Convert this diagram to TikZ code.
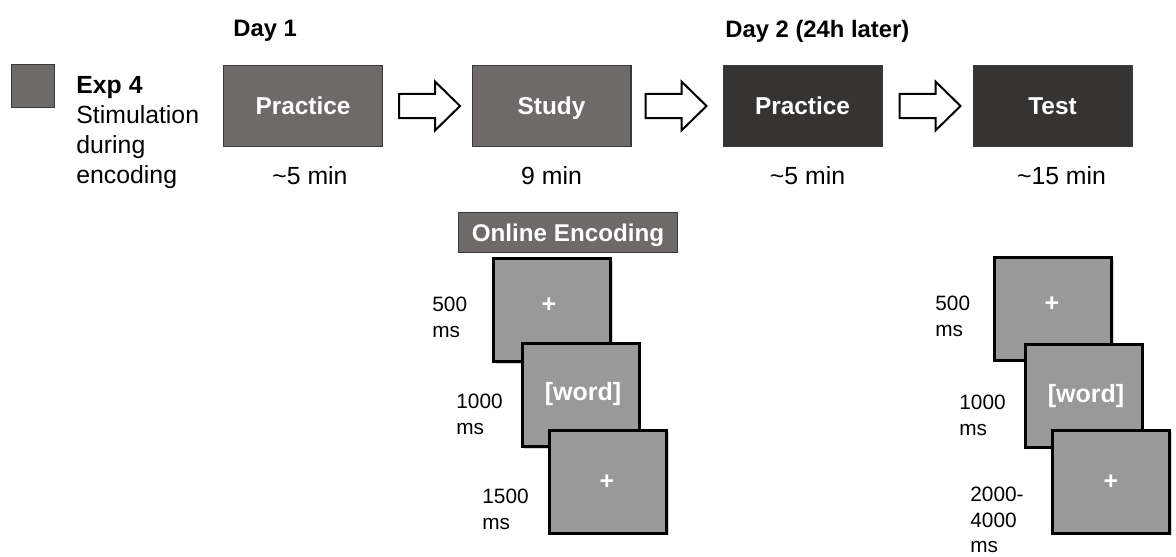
\documentclass[tikz,border=0pt]{standalone}
\usepackage{fontspec}
\setmainfont{Liberation Sans}
\usetikzlibrary{calc,shadows}
\definecolor{lightbox}{HTML}{6E6A69}
\definecolor{darkbox}{HTML}{363433}
\definecolor{boxedge}{HTML}{3A3A3A}
\definecolor{screenfill}{HTML}{999999}
\begin{document}
\begin{tikzpicture}[x=0.5pt,y=-0.5pt,
  phase/.style={draw=boxedge, line width=0.6pt, minimum width=79.4pt, minimum height=40.4pt,
    inner sep=0pt, text=white, font=\bfseries\fontsize{12.2}{14}\selectfont, text depth=0pt},
  tag/.style={draw=boxedge, line width=0.6pt, fill=lightbox, minimum width=109.4pt, minimum height=19.9pt,
    inner sep=0pt, text=white, font=\bfseries\fontsize{12.1}{14}\selectfont, text depth=0pt},
  screen/.style={draw=black, line width=1.5pt, fill=screenfill, minimum width=58.5pt, minimum height=51.5pt,
    inner sep=0pt, drop shadow={shadow xshift=1.2pt, shadow yshift=-1.2pt, opacity=0.35}},
  scrtext/.style={text=white, font=\bfseries\fontsize{12.5}{14}\selectfont, inner sep=0pt},
  lbl/.style={font=\fontsize{10.4}{12.6}\selectfont, align=left, inner sep=0pt, anchor=north west},
  daylbl/.style={font=\bfseries\fontsize{11.9}{14}\selectfont, inner sep=0pt, anchor=north west},
  dur/.style={font=\fontsize{12.4}{14}\selectfont, inner sep=0pt, anchor=base},
  arrowline/.style={draw=black, line width=1pt, fill=white, line join=miter},
  blockarrow/.pic={\path[arrowline] (0,-12) -- (36,-12) -- (36,-24.5) -- (61,0) -- (36,24.5) -- (36,12) -- (0,12) -- cycle;}
]
\useasboundingbox (0,0) rectangle (1176,556);

% legend
\node[draw=boxedge, line width=0.6pt, fill=lightbox, minimum size=21.4pt, inner sep=0pt] (leg) at (33,86) {};
\node[font=\fontsize{12.4}{15}\selectfont, align=left, inner sep=0pt, anchor=north west] (exp) at (76,76)
  {\textbf{Exp 4}\\Stimulation\\during\\encoding};

% day labels
\node[daylbl] (day1) at (233,20) {Day 1};
\node[daylbl] (day2) at (725,20) {Day 2 (24h later)};

% phases
\node[phase, fill=lightbox] (p1) at (303,106) {Practice};
\node[phase, fill=lightbox] (st) at (551.5,106) {Study};
\node[phase, fill=darkbox] (p2) at (802.5,106) {Practice};
\node[phase, fill=darkbox] (te) at (1052.5,106) {Test};

% block arrows
\pic at ($(p1.east)+(16,0)$) {blockarrow};
\pic at ($(st.east)+(14,0)$) {blockarrow};
\pic at ($(p2.east)+(17,0)$) {blockarrow};

% durations
\node[dur] (d1) at ($(p1.south)+(7,37)$) {\textasciitilde 5 min};
\node[dur] (d2) at ($(st.south)+(0,37)$) {9 min};
\node[dur] (d3) at ($(p2.south)+(5,37)$) {\textasciitilde 5 min};
\node[dur] (d4) at ($(te.south)+(9,37)$) {\textasciitilde 15 min};

% online encoding
\node[tag] (oe) at (568,232.5) {Online Encoding};

% encoding trial screens
\node[screen] (a1) at (552,310) {};
\node[scrtext] (a1t) at (549,305) {+};
\node[screen] (a2) at (580.5,395) {};
\node[scrtext] (a2t) at (583,394) {[word]};
\node[screen] (a3) at (608,481.5) {};
\node[scrtext] (a3t) at (607,482) {+};
\node[lbl] (al1) at (432,297) {500\\ms};
\node[lbl] (al2) at (456,394) {1000\\ms};
\node[lbl] (al3) at (482,489) {1500\\ms};

% test trial screens
\node[screen] (b1) at (1053,308.5) {};
\node[scrtext] (b1t) at (1052,304) {+};
\node[screen] (b2) at (1083.5,395.5) {};
\node[scrtext] (b2t) at (1086,396) {[word]};
\node[screen] (b3) at (1111,481.5) {};
\node[scrtext] (b3t) at (1111,482) {+};
\node[lbl] (bl1) at (935,296) {500\\ms};
\node[lbl] (bl2) at (959,395) {1000\\ms};
\node[lbl] (bl3) at (970,487) {2000-\\4000\\ms};
\end{tikzpicture}
\end{document}
